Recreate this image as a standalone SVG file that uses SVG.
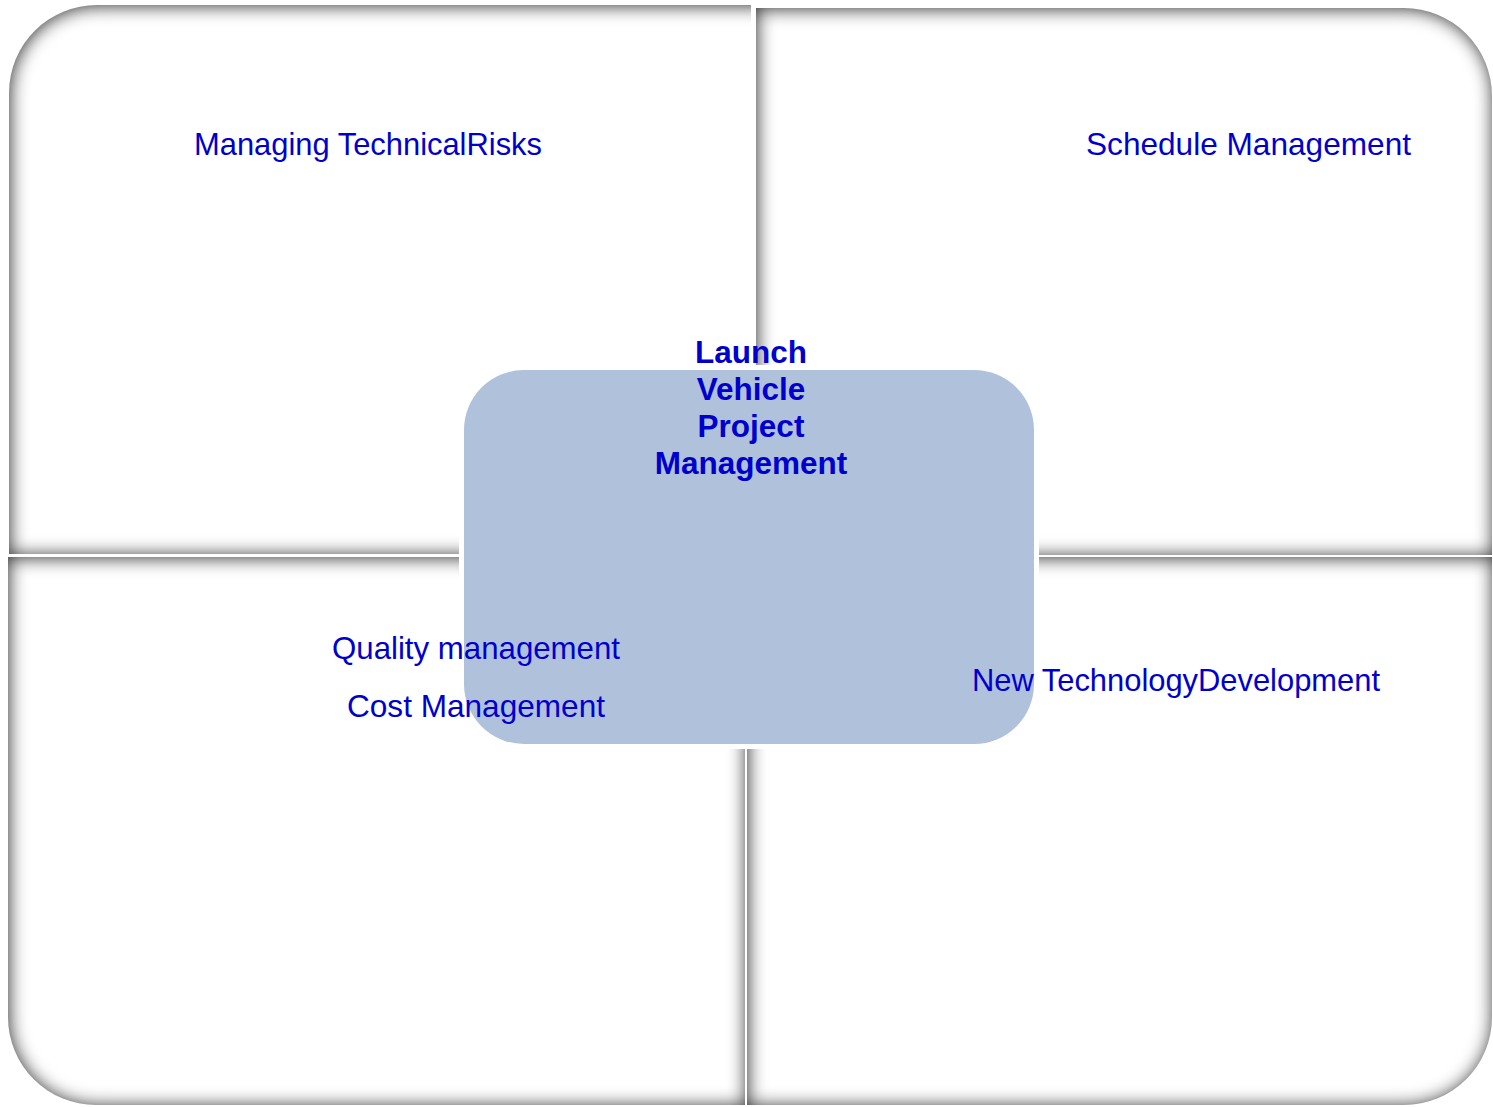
<svg xmlns="http://www.w3.org/2000/svg" width="1493" height="1107" viewBox="0 0 1493 1107">
<style>
.quad{fill:#ffffff;filter:url(#inner);}
.lbl{font-family:"Liberation Sans",Arial,sans-serif;font-size:31.5px;fill:#0000CC;}
.ttl{font-family:"Liberation Sans",Arial,sans-serif;font-size:31.5px;font-weight:bold;fill:#0000CC;text-anchor:middle;}
</style>
<defs>
<filter id="inner" x="-5%" y="-5%" width="110%" height="110%" color-interpolation-filters="sRGB">
<feFlood flood-color="#000000" flood-opacity="0.8" result="f"/>
<feComposite in="f" in2="SourceAlpha" operator="out" result="o"/>
<feGaussianBlur in="o" stdDeviation="9" result="b"/>
<feOffset in="b" dx="1" dy="1" result="bo"/>
<feComposite in="bo" in2="SourceAlpha" operator="in" result="s"/>
<feMerge><feMergeNode in="SourceGraphic"/><feMergeNode in="s"/></feMerge>
</filter>
<clipPath id="clipTL"><rect x="0" y="0" width="751" height="560"/></clipPath>
</defs>
<rect width="1493" height="1107" fill="#ffffff"/>
<g id="quad-tl" clip-path="url(#clipTL)">
<path class="quad" d="M9,93 A88,88 0 0 1 97,5 H775 V554 H9 Z"/>
</g>
<g id="quad-tr">
<path class="quad" d="M756,8 H1404 A88,88 0 0 1 1492,96 V555 H756 Z"/>
</g>
<g id="quad-bl">
<path class="quad" d="M8,557 H745 V1105 H96 A88,88 0 0 1 8,1017 Z"/>
</g>
<g id="quad-br">
<path class="quad" d="M747,557 H1492 V1017 A88,88 0 0 1 1404,1105 H747 Z"/>
</g>
<g id="center">
<rect x="459" y="365" width="580" height="384" rx="65" ry="65" fill="#ffffff"/>
<rect x="464" y="370" width="570" height="374" rx="60" ry="60" fill="#B0C1DC"/>
<text class="ttl" x="751" y="363">Launch</text>
<text class="ttl" x="751" y="400">Vehicle</text>
<text class="ttl" x="751" y="437">Project</text>
<text class="ttl" x="751" y="474">Management</text>
</g>
<g id="label-tl">
<text class="lbl" x="194" y="155" textLength="348" lengthAdjust="spacingAndGlyphs">Managing TechnicalRisks</text>
</g>
<g id="label-tr">
<text class="lbl" x="1086" y="155" textLength="325" lengthAdjust="spacingAndGlyphs">Schedule Management</text>
</g>
<g id="label-bl">
<text class="lbl" x="332" y="659" textLength="288" lengthAdjust="spacingAndGlyphs">Quality management</text>
<text class="lbl" x="347" y="717" textLength="258" lengthAdjust="spacingAndGlyphs">Cost Management</text>
</g>
<g id="label-br">
<text class="lbl" x="972" y="691" textLength="408" lengthAdjust="spacingAndGlyphs">New TechnologyDevelopment</text>
</g>
<g id="connectors"/>
</svg>
